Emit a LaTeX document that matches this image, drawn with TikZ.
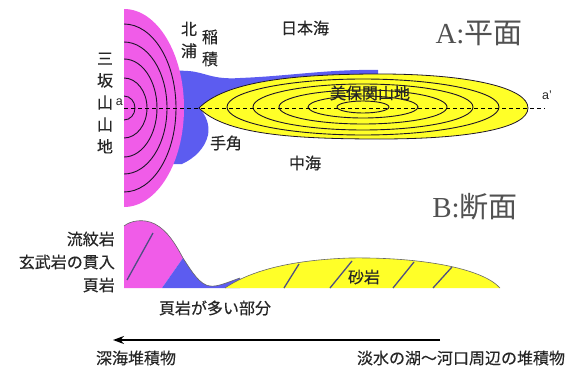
\documentclass[tikz,border=0pt]{standalone}
\usepackage{fontspec}
\setmainfont{Liberation Sans}
\newfontfamily\cjk[FakeBold=0.4]{Noto Sans CJK JP}
\newfontfamily\cjktitle{Noto Sans CJK JP}
\newfontfamily\titleserif{Liberation Serif}
\usetikzlibrary{arrows.meta}
\definecolor{rhyo}{RGB}{240,92,232}
\definecolor{shale}{RGB}{92,92,240}
\definecolor{sand}{RGB}{255,255,40}
\definecolor{ink}{RGB}{38,38,38}
\definecolor{hatchc}{RGB}{78,78,130}
\definecolor{contour}{RGB}{30,20,40}
\tikzset{
  lbl/.style={text=ink, inner sep=0pt, font=\cjk\fontsize{16}{22}\selectfont},
  title/.style={text=ink!80, inner sep=0pt, font=\fontsize{29}{30}\selectfont},
  small/.style={text=ink, inner sep=0pt, font=\fontsize{12.5}{13}\selectfont},
  ring/.style={draw=contour, line width=0.9pt},
  hatchline/.style={draw=hatchc, line width=1.3pt},
  rim/.style={draw=ink!70, line width=0.6pt},
}
\begin{document}
\begin{tikzpicture}[x=1pt,y=-1pt]
\useasboundingbox (0,0) rectangle (582,372);

% ---------- A: plan ----------
% shale tongue around the sandstone body
\fill[shale] (170,70) -- (188,71) .. controls (205,72) and (212,80) .. (240,78)
  .. controls (290,76) and (330,69) .. (378,70) -- (378,76) -- (260,100) -- (199,108)
  .. controls (206,115) and (210,125) .. (208,135)
  .. controls (205,148) and (195,158) .. (182,164) -- (170,164) -- cycle;

% rhyolite dome (Misaka mountains), east half only
\begin{scope}
  \clip (124,0) rectangle (300,250);
  \fill[rhyo] (124,108) ellipse[x radius=60, y radius=99];
  \foreach \rh/\rv in {52/84, 43/66, 33/49, 23/30, 11/12}
    \draw[ring] (124,108) ellipse[x radius=\rh, y radius=\rv];
\end{scope}

% sandstone body (Mihonoseki mountains)
\path[fill=sand, draw=contour, line width=0.8pt] (199,108)
  .. controls (225,82) and (290,74) .. (380,74)
  .. controls (470,74) and (528,88) .. (528,108)
  .. controls (528,128) and (470,139) .. (380,139)
  .. controls (290,139) and (225,134) .. (199,108) -- cycle;
\foreach \rh/\rv in {136/28, 110/23, 84/17, 55/11, 26/6}
  \draw[ring] (363,107) ellipse[x radius=\rh, y radius=\rv];

% section line a--a'
\coordinate (a) at (124,108);
\coordinate (a2) at (545,108);
\draw[black, line width=0.8pt, dash pattern=on 4pt off 3pt] (a) -- (a2);
\node[small, anchor=east] (la) at (123,102) {a};
\node[small, anchor=west] (la2) at (542,95) {a\textquoteright};

% plan labels
\node[lbl, align=center] (misaka) at (105,103) {三\\坂\\山\\山\\地};
\node[lbl, align=center] (kitaura) at (189,40) {北\\浦};
\node[lbl, align=center] (inazumi) at (210,48) {稲\\積};
\node[lbl] (tesumi) at (226,143) {手角};
\node[lbl] (sea1) at (305,28) {日本海};
\node[lbl] (sea2) at (305,163) {中海};
\node[lbl] (miho) at (370,93) {美保関山地};
\node[title] (ta) at (479,33) {\titleserif A:\cjktitle 平面};

% ---------- B: section ----------
\node[title] (tb) at (475,207) {\titleserif B:\cjktitle 断面};

% rhyolite
\fill[rhyo] (124,288) -- (124,226) .. controls (130,221) and (143,218) .. (155,224)
  .. controls (168,231) and (176,245) .. (183,258) -- (162,288) -- cycle;
% shale
\fill[shale] (162,288) -- (183,258) .. controls (192,272) and (200,285) .. (210,286)
  .. controls (218,287) and (228,282) .. (240,278) -- (240,288) -- cycle;
% sandstone
\fill[sand] (225,288) .. controls (250,271) and (290,260) .. (350,258)
  .. controls (420,257) and (482,268) .. (500,288) -- cycle;
% upper surface
\draw[rim] (124,226) .. controls (130,221) and (143,218) .. (155,224)
  .. controls (168,231) and (176,245) .. (183,258)
  .. controls (192,272) and (200,285) .. (210,286)
  .. controls (218,287) and (228,282) .. (240,278);
\draw[rim] (225,288) .. controls (250,271) and (290,260) .. (350,258)
  .. controls (420,257) and (482,268) .. (500,288);

% bedding strokes
\draw[hatchline] (127,280) -- (153,233);
\draw[hatchline] (284,288) -- (299,264);
\draw[hatchline] (330,288) -- (352,261);
\draw[hatchline] (393,288) -- (414,262);
\draw[hatchline] (433,288) -- (452,267);

% section labels
\node[lbl, anchor=east] (ryu) at (115,239) {流紋岩};
\node[lbl, anchor=east] (gen) at (115,262) {玄武岩の貫入};
\node[lbl, anchor=east] (ket) at (115,285) {頁岩};
\node[lbl] (sa) at (364,277) {砂岩};
\node[lbl] (shalepart) at (215,308) {頁岩が多い部分};

% facies trend arrow
\coordinate (ar1) at (440,340);
\coordinate (ar0) at (113,340);
\draw[black, line width=2.2pt, -{Stealth[length=11pt, width=8pt]}] (ar1) -- (ar0);
\node[lbl] (deep) at (136,358) {深海堆積物};
\node[lbl] (fresh) at (461,358) {淡水の湖〜河口周辺の堆積物};
\end{tikzpicture}
\end{document}
